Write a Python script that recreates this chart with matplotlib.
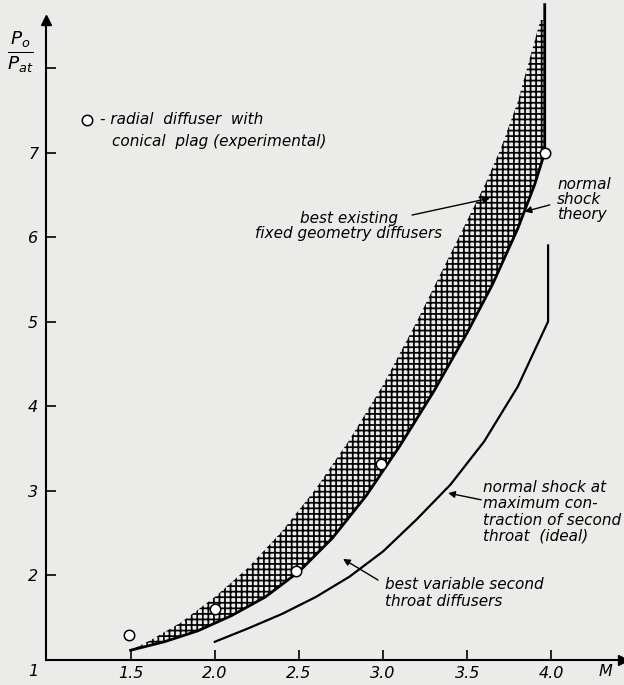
import matplotlib
matplotlib.use("Agg")
import matplotlib.pyplot as plt

plt.rcParams['font.family'] = ['DejaVu Sans']
plt.rcParams['font.style'] = 'italic'
plt.rcParams['mathtext.fontset'] = 'dejavusans'
plt.rcParams['hatch.linewidth'] = 1.25

# normal shock theory (lower edge of the hatched band)
shock_M = [1.5, 1.7, 1.9, 2.1, 2.3, 2.5, 2.7, 2.9, 3.1, 3.3, 3.5, 3.65,
           3.8, 3.9, 3.96, 3.96]
shock_P = [1.11, 1.21, 1.34, 1.52, 1.74, 2.04, 2.44, 2.94, 3.53, 4.17, 4.87,
           5.44, 6.10, 6.62, 7.0, 8.75]

# best existing fixed geometry diffusers (upper edge of the band)
fixed_M = [1.5, 1.62, 1.8, 2.0, 2.2, 2.4, 2.6, 2.8, 3.0, 3.2, 3.4, 3.6,
           3.7, 3.8, 3.9, 3.96]
fixed_P = [1.11, 1.23, 1.44, 1.74, 2.09, 2.52, 3.02, 3.60, 4.25, 5.0, 5.8,
           6.6, 7.05, 7.6, 8.32, 8.75]

# normal shock at maximum contraction of second throat
ideal_M = [2.0, 2.2, 2.4, 2.6, 2.8, 3.0, 3.2, 3.4, 3.6, 3.8, 3.98, 3.98]
ideal_P = [1.21, 1.37, 1.54, 1.74, 1.98, 2.28, 2.66, 3.07, 3.58, 4.23, 5.0, 5.9]

# radial diffuser with conical plug, measured
exp_M = [1.49, 2.0, 2.48, 2.99, 3.96]
exp_P = [1.29, 1.60, 2.05, 3.31, 7.0]

x_ticks = [1.5, 2.0, 2.5, 3.0, 3.5, 4.0]
x_labels = ['1.5', '2.0', '2.5', '3.0', '3.5', '4.0']
y_ticks = [2, 3, 4, 5, 6, 7, 8]
y_labels = ['2', '3', '4', '5', '6', '7', '']

paper = '#ebebe9'
fs = 11
fig = plt.figure(figsize=(6.24, 6.85), dpi=100, facecolor=paper)
ax = fig.add_axes([0.0745, 0.0372, 0.924, 0.9336], facecolor=paper)
ax.set_xlim(1, 4.4254)
ax.set_ylim(1, 8.568)

for s in ['top', 'right']:
    ax.spines[s].set_visible(False)
for s in ['left', 'bottom']:
    ax.spines[s].set_linewidth(1.5)
ax.plot(1, 0, '>k', ms=7, transform=ax.transAxes, clip_on=False)
ax.plot(0, 1, '^k', ms=7, transform=ax.transAxes, clip_on=False)

ax.set_xticks(x_ticks)
ax.set_xticklabels(x_labels)
ax.set_yticks(y_ticks)
ax.set_yticklabels(y_labels)
ax.tick_params(direction='in', length=7, width=1.2, labelsize=11.5)
ax.tick_params(axis='x', pad=5)
ax.tick_params(axis='y', pad=6)

# hatched band between the two curves
band_M = fixed_M + shock_M[::-1]
band_P = fixed_P + shock_P[::-1]
ax.fill(band_M, band_P, facecolor='none', edgecolor='black', hatch='+++',
        linewidth=0)

ax.plot(shock_M, shock_P, color='black', lw=2.0, clip_on=False)
ax.plot(ideal_M, ideal_P, color='black', lw=1.6)
ax.plot(exp_M, exp_P, 'o', ms=7.5, mfc='white', mec='black', mew=1.1,
        clip_on=False, zorder=5)

# legend entry
ax.plot([1.241], [7.385], 'o', ms=7.5, mfc='white', mec='black', mew=1.1)
ax.text(1.318, 7.385, '- radial  diffuser  with', fontsize=fs, va='center')
ax.text(1.389, 7.136, 'conical  plag (experimental)', fontsize=fs, va='center')

arrow = dict(arrowstyle='-|>', color='black', lw=1.0, mutation_scale=10,
             shrinkA=0, shrinkB=0)
ax.annotate('', xy=(3.635, 6.46), xytext=(3.172, 6.26), arrowprops=arrow)
ax.text(2.797, 6.13, 'best existing\nfixed geometry diffusers', fontsize=fs,
        ha='center', va='center', linespacing=1.0)

ax.annotate('', xy=(3.84, 6.30), xytext=(3.99, 6.38), arrowprops=arrow)
ax.text(4.033, 6.44, 'normal\nshock\ntheory', fontsize=fs, ha='left',
        va='center', linespacing=1.0)

ax.annotate('', xy=(3.386, 2.97), xytext=(3.582, 2.89), arrowprops=arrow)
ax.text(3.593, 2.745, 'normal shock at\nmaximum con-\ntraction of second\nthroat  (ideal)',
        fontsize=fs, ha='left', va='center', linespacing=1.1)

ax.annotate('', xy=(2.762, 2.19), xytext=(2.97, 1.94), arrowprops=arrow)
ax.text(3.011, 1.787, 'best variable second\nthroat diffusers', fontsize=fs,
        ha='left', va='center', linespacing=1.1)

fig.text(0.032, 0.924, r'$\frac{P_o}{P_{at}}$', fontsize=19, ha='center', va='center')
fig.text(0.053, 0.019, '1', fontsize=11.5, ha='center', va='center')
fig.text(0.970, 0.019, 'M', fontsize=11.5, ha='center', va='center')

fig.savefig('out.png', dpi=100, facecolor=paper)
